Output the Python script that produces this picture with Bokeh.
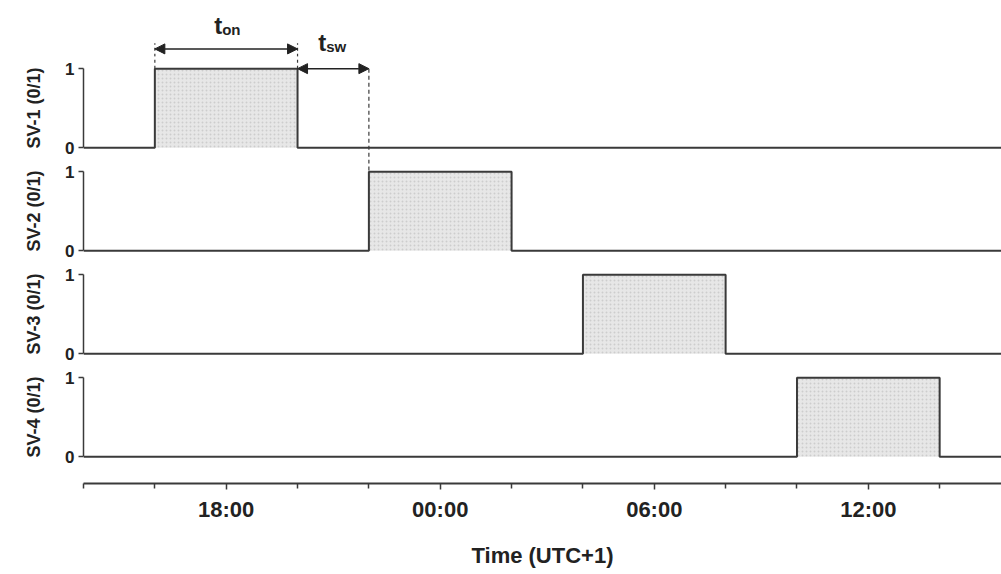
import pandas as pd
from bokeh.plotting import figure
from bokeh.layouts import column
from bokeh.models import Range1d, FixedTicker, DatetimeTickFormatter, Arrow, NormalHead
from bokeh.core.properties import value
from bokeh.embed import file_html
from bokeh.resources import INLINE

# ---------------- data ----------------
valve_labels = ["SV-1 (0/1)", "SV-2 (0/1)", "SV-3 (0/1)", "SV-4 (0/1)"]
on_times = ["2020-06-01 16:00", "2020-06-01 22:00", "2020-06-02 04:00", "2020-06-02 10:00"]
off_times = ["2020-06-01 20:00", "2020-06-02 02:00", "2020-06-02 08:00", "2020-06-02 14:00"]
state_off = 0
state_on = 1
time_start = "2020-06-01 14:00"
time_end = "2020-06-02 15:44"
major_ticks = ["2020-06-01 18:00", "2020-06-02 00:00", "2020-06-02 06:00", "2020-06-02 12:00"]
minor_ticks = ["2020-06-01 14:00", "2020-06-01 16:00", "2020-06-01 20:00", "2020-06-01 22:00",
               "2020-06-02 02:00", "2020-06-02 04:00", "2020-06-02 08:00", "2020-06-02 10:00",
               "2020-06-02 14:00"]
x_title = "Time (UTC+1)"
t_on_parts = ["t", "on"]
t_sw_parts = ["t", "sw"]


def ms(s):
    return pd.Timestamp(s).value / 1e6


FONT = "Liberation Sans"
INK = "#222222"
LINE = "#3a3a3a"
UNIT = 79.0
Y0 = -0.15
PANEL_H = 103
TOP_H = 56
Y1 = Y0 + PANEL_H / UNIT

xr = Range1d(ms(time_start), ms(time_end))

on0, off0, on1 = ms(on_times[0]), ms(off_times[0]), ms(on_times[1])


def head():
    return NormalHead(size=10, fill_color=INK, line_color=INK)


def base_fig(h, yr, **kw):
    f = figure(width=1001, height=h, x_range=xr, y_range=yr,
               x_axis_type="datetime", output_backend="svg", toolbar_location=None,
               min_border_left=83, min_border_right=0, min_border_top=0, **kw)
    f.outline_line_color = None
    f.xgrid.visible = False
    f.ygrid.visible = False
    return f


# ---- annotation strip above SV-1 ----
pt = base_fig(TOP_H, Range1d(Y1, Y1 + TOP_H / UNIT), x_axis_location=None, y_axis_location=None,
              min_border_bottom=0)
pt.segment(x0=[on0, off0], y0=[state_on, state_on], x1=[on0, off0], y1=[1.32, 1.32],
           line_color=LINE, line_width=1.2, line_dash="3 3")
pt.add_layout(Arrow(x_start=on0, y_start=1.25, x_end=off0, y_end=1.25,
                    start=head(), end=head(), line_color=INK, line_width=1.5))
mid_on = (on0 + off0) / 2
mid_sw = (off0 + on1) / 2
for mid, parts, yb, dx in [(mid_on, t_on_parts, 1.54, -4), (mid_sw, t_sw_parts, 1.33, -7)]:
    pt.text(x=[mid], y=[yb], text=[parts[0]], text_align="right", text_baseline="alphabetic",
            x_offset=dx, text_font=value(FONT), text_font_style="bold",
            text_font_size="24px", text_color=INK)
    pt.text(x=[mid], y=[yb], text=[parts[1]], text_align="left", text_baseline="alphabetic",
            x_offset=dx, y_offset=4, text_font=value(FONT), text_font_style="bold",
            text_font_size="15px", text_color=INK)

panels = [pt]
for i, lab in enumerate(valve_labels):
    p = base_fig(PANEL_H, Range1d(Y0, Y1), x_axis_location=None, min_border_bottom=0)
    ya = p.yaxis[0]
    ya.ticker = FixedTicker(ticks=[state_off, state_on])
    ya.bounds = (state_off, state_on)
    ya.axis_label = lab
    ya.axis_label_text_font = FONT
    ya.axis_label_text_font_style = "bold"
    ya.axis_label_text_font_size = "18px"
    ya.axis_label_text_color = INK
    ya.axis_label_standoff = 18
    ya.major_label_text_font = FONT
    ya.major_label_text_font_style = "bold"
    ya.major_label_text_font_size = "17px"
    ya.major_label_text_color = INK
    ya.major_label_standoff = 4
    ya.major_tick_out = 5
    ya.major_tick_in = 0
    ya.minor_tick_line_color = None
    ya.axis_line_color = LINE
    ya.axis_line_width = 1.5
    ya.major_tick_line_color = LINE
    ya.major_tick_line_width = 1.5

    on = ms(on_times[i])
    off = ms(off_times[i])
    p.quad(left=[on], right=[off], bottom=[state_off], top=[state_on],
           fill_color="#e7e7e7", hatch_pattern="dot", hatch_color="#cdcdcd",
           hatch_scale=4, line_color=None)
    xs = [ms(time_start), on, on, off, off, ms(time_end)]
    ys = [state_off, state_off, state_on, state_on, state_off, state_off]
    p.line(xs, ys, line_color=LINE, line_width=2)

    if i == 0:
        p.segment(x0=[on0, off0], y0=[state_on, state_on], x1=[on0, off0], y1=[1.32, 1.32],
                  line_color=LINE, line_width=1.2, line_dash="3 3")
        p.segment(x0=[on1], y0=[state_on], x1=[on1], y1=[Y0],
                  line_color=LINE, line_width=1.2, line_dash="4 3")
        p.add_layout(Arrow(x_start=off0, y_start=state_on, x_end=on1, y_end=state_on,
                           start=head(), end=head(), line_color=INK, line_width=1.5))
    if i == 1:
        p.segment(x0=[on], y0=[Y1], x1=[on], y1=[state_on],
                  line_color=LINE, line_width=1.2, line_dash="4 3")
    panels.append(p)

# ---- bottom time axis ----
pa = base_fig(106, Range1d(0, 1), y_axis_location=None, min_border_bottom=91)
xa = pa.xaxis[0]
xa.ticker = FixedTicker(ticks=[ms(t) for t in major_ticks], minor_ticks=[ms(t) for t in minor_ticks])
xa.formatter = DatetimeTickFormatter(hours="%H:%M", days="%H:%M", hourmin="%H:%M",
                                     minutes="%H:%M", months="%H:%M", years="%H:%M")
xa.axis_label = x_title
xa.axis_label_text_font = FONT
xa.axis_label_text_font_style = "bold"
xa.axis_label_text_font_size = "22px"
xa.axis_label_text_color = INK
xa.axis_label_standoff = 18
xa.major_label_text_font = FONT
xa.major_label_text_font_style = "bold"
xa.major_label_text_font_size = "22px"
xa.major_label_text_color = INK
xa.major_label_standoff = 7
xa.major_tick_out = 6
xa.major_tick_in = 0
xa.minor_tick_out = 5
xa.minor_tick_in = 0
xa.axis_line_color = LINE
xa.axis_line_width = 2
xa.major_tick_line_color = LINE
xa.major_tick_line_width = 1.5
xa.minor_tick_line_color = LINE
xa.minor_tick_line_width = 1.5

layout = column(*panels, pa, spacing=0)
open("out.html", "w").write(file_html(layout, INLINE))
